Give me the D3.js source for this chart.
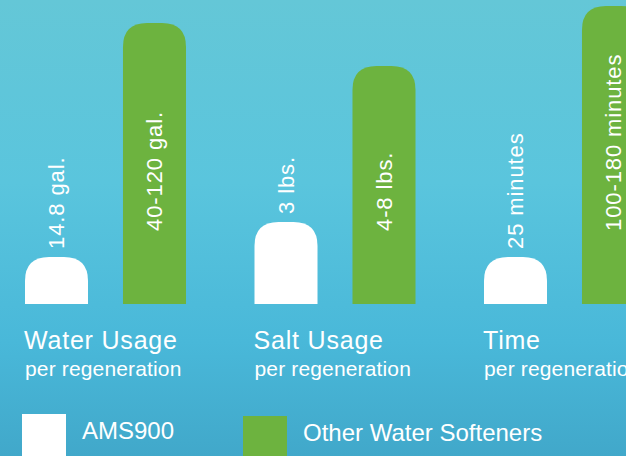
<!DOCTYPE html>
<html>
<head>
<meta charset="utf-8">
<script src="https://cdn.jsdelivr.net/npm/d3@7"></script>
<style>
  body { margin: 0; overflow: hidden; }
  svg { display: block; font-family: "Liberation Sans", Arial, Helvetica, sans-serif; }
</style>
</head>
<body>
<div id="chart"></div>
<script>
// Data
const categories = ["Water Usage", "Salt Usage", "Time"];
const subtitles = ["per regeneration", "per regeneration", "per regeneration"];
const series = ["AMS900", "Other Water Softeners"];
// bar heights as drawn (relative, no shared unit in the original graphic)
const amsValues = [47, 82, 47];
const otherValues = [281, 238, 298];
const amsLabels = ["14.8 gal.", "3 lbs.", "25 minutes"];
const otherLabels = ["40-120 gal.", "4-8 lbs.", "100-180 minutes"];

const width = 626, height = 456;
const colors = d3.scaleOrdinal().domain(series).range(["#ffffff", "#6db33f"]);

const svg = d3.select("#chart")
  .append("svg")
  .attr("width", width)
  .attr("height", height);

// background gradient
const grad = svg.append("defs").append("linearGradient")
  .attr("id", "bg")
  .attr("x1", 0).attr("y1", 0).attr("x2", 0).attr("y2", 1);
grad.selectAll("stop")
  .data([[0, "#64c7d7"], [0.4, "#5ac5dd"], [0.75, "#49b8d9"], [1, "#41a8ca"]])
  .join("stop")
  .attr("offset", d => d[0])
  .attr("stop-color", d => d[1]);

svg.append("rect")
  .attr("width", width)
  .attr("height", height)
  .attr("fill", "url(#bg)");

// Scales
const x0 = d3.scaleBand()
  .domain(categories)
  .range([25, 25 + 229.5 * 3]);

const x1 = d3.scaleBand()
  .domain(series)
  .range([0, 161])
  .paddingInner(0.357);

const y = d3.scaleLinear()
  .domain([0, 300])
  .range([304, 4]);

const data = categories.map((c, i) => ({
  category: c,
  bars: [
    { series: series[0], value: amsValues[i], label: amsLabels[i] },
    { series: series[1], value: otherValues[i], label: otherLabels[i] }
  ]
}));

// bar with rounded top corners
function roundedTop(x, yTop, w, yBottom, r) {
  r = Math.min(r, w / 2, yBottom - yTop);
  return `M${x},${yBottom}V${yTop + r}Q${x},${yTop} ${x + r},${yTop}` +
    `H${x + w - r}Q${x + w},${yTop} ${x + w},${yTop + r}V${yBottom}Z`;
}

const group = svg.append("g")
  .selectAll("g")
  .data(data)
  .join("g")
  .attr("transform", d => `translate(${x0(d.category)},0)`);

group.selectAll("path")
  .data(d => d.bars)
  .join("path")
  .attr("d", d => roundedTop(x1(d.series), y(d.value), x1.bandwidth(), y(0), 24))
  .attr("fill", d => colors(d.series));

// value labels, rotated
group.selectAll("text.value")
  .data(d => d.bars)
  .join("text")
  .attr("class", "value")
  .attr("transform", d => {
    const cx = x1(d.series) + x1.bandwidth() / 2;
    const ys = d.series === series[0] ? y(d.value) - 8 : y(0) - 73;
    return `translate(${cx},${ys}) rotate(-90)`;
  })
  .attr("dy", "0.35em")
  .attr("fill", "#ffffff")
  .style("font-size", "22px")
  .style("letter-spacing", "0.9px")
  .text(d => d.label);

// category labels
svg.append("g")
  .selectAll("text")
  .data(categories)
  .join("text")
  .attr("x", d => x0(d) - 1)
  .attr("y", 349)
  .attr("fill", "#ffffff")
  .style("font-size", "25px")
  .style("letter-spacing", "0.8px")
  .text(d => d);

svg.append("g")
  .selectAll("text")
  .data(subtitles)
  .join("text")
  .attr("x", (d, i) => x0(categories[i]))
  .attr("y", 376)
  .attr("fill", "#ffffff")
  .style("font-size", "21px")
  .style("letter-spacing", "0.15px")
  .text(d => d);

// legend
const legendX = [22, 243];
const legend = svg.append("g")
  .selectAll("g")
  .data(series)
  .join("g")
  .attr("transform", (d, i) => `translate(${legendX[i]},${414 + i * 2})`);

legend.append("rect")
  .attr("width", 44)
  .attr("height", 50)
  .attr("fill", d => colors(d));

legend.append("text")
  .attr("x", 60)
  .attr("y", 25)
  .attr("fill", "#ffffff")
  .style("font-size", "24px")
  .text(d => d);
</script>
</body>
</html>
